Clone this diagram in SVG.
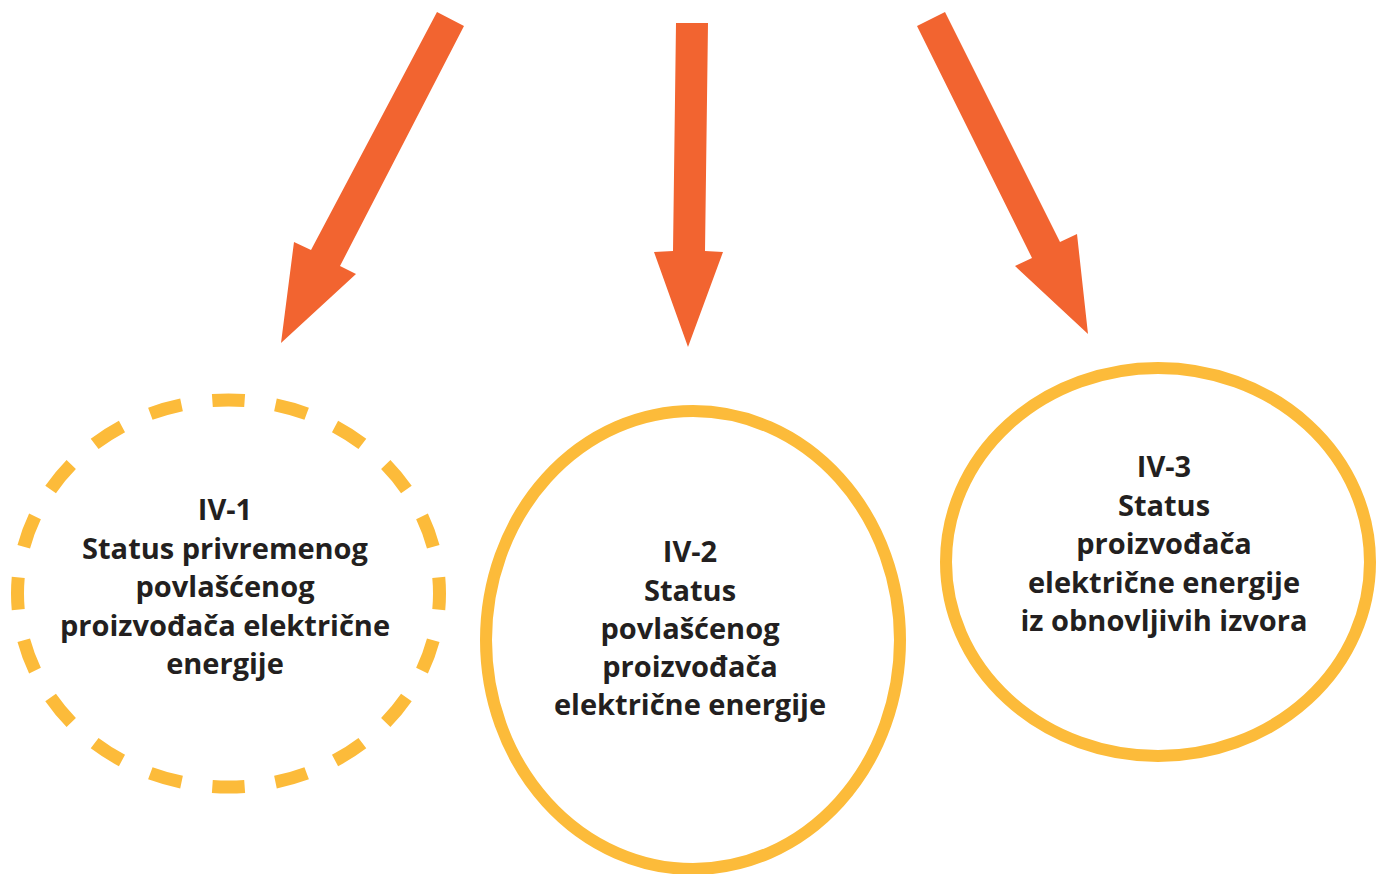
<svg xmlns="http://www.w3.org/2000/svg" width="1381" height="874" viewBox="0 0 1381 874">
<style>
.arrow{fill:#F26430;}
.ring{fill:none;stroke:#FCBB3A;}
.lbl{font-family:"Open Sans","Liberation Sans",sans-serif;font-weight:700;font-size:29px;fill:#231F20;text-anchor:middle;}
</style>
<rect width="1381" height="874" fill="#FFFFFF"/>
<g id="connectors">
<polygon class="arrow" points="437,12 464,26 340,266 356,274 281,343 294,242 311,250"/>
<polygon class="arrow" points="676,23 708,23 705,251 723,252 688,347 654,252 673,251"/>
<polygon class="arrow" points="917,26 945,12 1060,242 1077,234 1088,334 1015,266 1032,258"/>
</g>
<g id="node-iv1">
<path class="ring" stroke-width="13" pathLength="200" stroke-dasharray="5.1 4.9" stroke-dashoffset="2.55" d="M439.5,593.5 A211,193.5 0 1 1 17.5,593.5 A211,193.5 0 1 1 439.5,593.5 Z"/>
<text class="lbl" x="225" y="520">IV-1</text>
<text class="lbl" x="225" y="558.5">Status privremenog</text>
<text class="lbl" x="225" y="597">povlašćenog</text>
<text class="lbl" x="225" y="635.5">proizvođača električne</text>
<text class="lbl" x="225" y="674">energije</text>
</g>
<g id="node-iv2">
<ellipse class="ring" stroke-width="12" cx="693" cy="640" rx="207" ry="229"/>
<text class="lbl" x="690" y="562">IV-2</text>
<text class="lbl" x="690" y="600.5">Status</text>
<text class="lbl" x="690" y="639">povlašćenog</text>
<text class="lbl" x="690" y="677">proizvođača</text>
<text class="lbl" x="690" y="715">električne energije</text>
</g>
<g id="node-iv3">
<ellipse class="ring" stroke-width="12" cx="1158" cy="562" rx="212" ry="194"/>
<text class="lbl" x="1164" y="477">IV-3</text>
<text class="lbl" x="1164" y="515.5">Status</text>
<text class="lbl" x="1164" y="554">proizvođača</text>
<text class="lbl" x="1164" y="592.5">električne energije</text>
<text class="lbl" x="1164" y="631">iz obnovljivih izvora</text>
</g>
</svg>
